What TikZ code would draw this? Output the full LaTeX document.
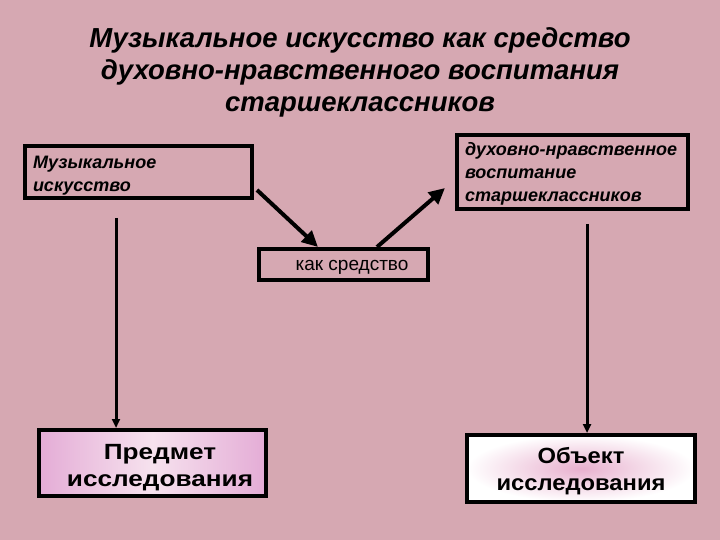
\documentclass[tikz,border=0pt]{standalone}
\usepackage{fontspec}
\setmainfont{Liberation Sans}
\usetikzlibrary{arrows.meta,calc}
\definecolor{bgpink}{RGB}{214,168,178}
\definecolor{lilac}{RGB}{228,172,214}
\definecolor{lilacc}{RGB}{246,226,238}
\definecolor{objpink}{RGB}{232,176,206}
\newcommand{\wideln}[2]{\scalebox{#1}[1]{\begin{tabular}{@{}c@{}}#2\end{tabular}}}
\newcommand{\leftln}[1]{\begin{tabular}{@{}l@{}}#1\end{tabular}}
\newcommand{\lowerby}[2]{\raisebox{-#1}[\height][\depth]{#2}}
\begin{document}
\begin{tikzpicture}[x=1pt,y=-1pt,
  box/.style={draw=black,line width=4pt,rectangle,inner sep=0pt},
  itbox/.style={box,align=left,font=\fontsize{18}{22.5}\selectfont\bfseries\itshape,inner xsep=8pt},
  bigbox/.style={box,align=center,font=\fontsize{22}{26.5}\selectfont\bfseries},
  bigarrow/.style={line width=4pt,-{Triangle[length=16pt,width=15pt]}},
  vline/.style={line width=3pt,-{Triangle[length=9pt,width=8pt]}}]
\fill[bgpink] (0,0) rectangle (720,540);
\useasboundingbox (0,0) rectangle (720,540);
\node[align=center,font=\fontsize{27.5}{32}\selectfont\bfseries\itshape] (title) at (360,72)
  {Музыкальное искусство как средство\\духовно-нравственного воспитания\\старшеклассников};
\node[itbox,text width=211pt,minimum height=52pt] (b1) at (138.5,172)
  {\lowerby{4pt}{\leftln{Музыкальное\\[0.5pt]искусство}}};
\node[itbox,text width=215pt,minimum height=74pt] (b2) at (572.5,172)
  {\lowerby{2pt}{\leftln{духовно-нравственное\\[0.5pt]воспитание\\[0.5pt]старшеклассников}}};
\node[box,minimum width=169pt,minimum height=31pt,font=\fontsize{19}{22}\selectfont] (b3) at (343.5,264.5)
  {\hspace*{17pt}\lowerby{3pt}{как средство}};
\node[bigbox,minimum width=227pt,minimum height=66pt,left color=lilac,right color=lilac,middle color=lilacc] (b4) at (152.5,463)
  {\hspace*{15pt}\lowerby{5pt}{\wideln{1.19}{Предмет\\[0.5pt]исследования}}};
\node[bigbox,minimum width=228pt,minimum height=67pt,inner color=objpink,outer color=white] (b5) at (581,468.5)
  {\lowerby{3pt}{\wideln{1.08}{Объект\\[0.5pt]исследования}}};
\draw[bigarrow] ($(b1.south east)+(3,-10)$) -- ($(b3.north)+(-25.5,0)$);
\draw[bigarrow] ($(b3.north)+(33.5,0)$) -- ($(b2.west)+(-10,16)$);
\coordinate (c1) at (116,218);
\coordinate (c2) at (587,224);
\draw[vline] (c1) -- (c1 |- b4.north);
\draw[vline] (c2) -- (c2 |- b5.north);
\end{tikzpicture}
\end{document}
